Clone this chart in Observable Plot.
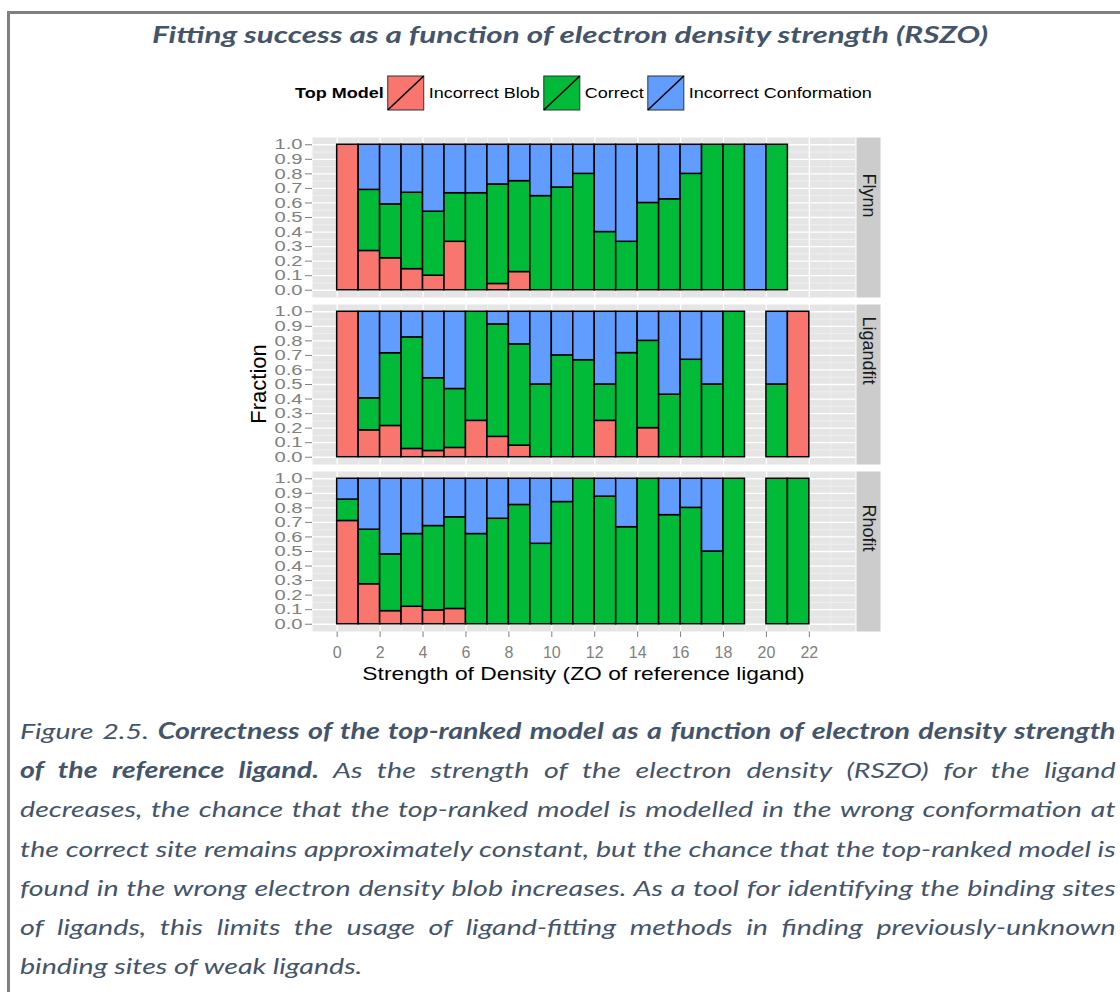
<!DOCTYPE html>
<html>
<head>
<meta charset="utf-8">
<script src="https://cdn.jsdelivr.net/npm/d3@7"></script>
<script src="https://cdn.jsdelivr.net/npm/@observablehq/plot@0.6"></script>
<style>
  html, body { margin: 0; padding: 0; background: #ffffff; }
  body { width: 1120px; height: 992px; overflow: hidden; position: relative; }
  #box { position: absolute; left: 7px; top: 11px; width: 1300px; height: 1200px;
         border-left: 3px solid #808080; border-top: 3px solid #808080; box-sizing: border-box; }
  #chart { position: absolute; left: 0; top: 120px; width: 1120px; }
  #overlay { position: absolute; left: 0; top: 0; }
  #chart svg [aria-label^="x-axis"], #chart svg [aria-label^="y-axis"] { color: #7F7F7F; }
  #chart svg [aria-label^="x-axis"] text { font-size: 16px; }
  #chart svg [aria-label^="y-axis"] text { font-size: 14.5px; }
</style>
</head>
<body>
<div id="box"></div>
<div id="chart"></div>
<script>
// ---- data: fraction of top-ranked models per density-strength bin ----
const methods = ["Flynn", "Ligandfit", "Rhofit"];
const categories = ["Incorrect Blob", "Correct", "Incorrect Conformation"];
const colors = ["#F8766D", "#00BA38", "#619CFF"];
const bins = [0, 1, 2, 3, 4, 5, 6, 7, 8, 9, 10, 11, 12, 13, 14, 15, 16, 17, 18, 19, 20, 21];

const flynnBlob         = [1.00, 0.27, 0.22, 0.145, 0.10, 0.333, 0, 0.043, 0.125, 0, 0, 0, 0, 0, 0, 0, 0, 0, 0, 0, 0, null];
const flynnCorrect      = [0, 0.42, 0.37, 0.525, 0.44, 0.334, 0.667, 0.684, 0.625, 0.647, 0.706, 0.80, 0.40, 0.333, 0.60, 0.625, 0.80, 1, 1, 0, 1, null];
const flynnConformation = [0, 0.31, 0.41, 0.33, 0.46, 0.333, 0.333, 0.273, 0.25, 0.353, 0.294, 0.20, 0.60, 0.667, 0.40, 0.375, 0.20, 0, 0, 1, 0, null];

const ligandfitBlob         = [1, 0.185, 0.215, 0.057, 0.043, 0.064, 0.25, 0.14, 0.08, 0, 0, 0, 0.25, 0, 0.20, 0, 0, 0, 0, null, 0, 1];
const ligandfitCorrect      = [0, 0.22, 0.50, 0.767, 0.50, 0.405, 0.75, 0.773, 0.696, 0.50, 0.70, 0.667, 0.25, 0.716, 0.60, 0.43, 0.67, 0.50, 1, null, 0.5, 0];
const ligandfitConformation = [0, 0.595, 0.285, 0.176, 0.457, 0.531, 0, 0.087, 0.224, 0.50, 0.30, 0.333, 0.50, 0.284, 0.20, 0.57, 0.33, 0.50, 0, null, 0.5, 0];

const rhofitBlob         = [0.71, 0.275, 0.09, 0.12, 0.095, 0.105, 0, 0, 0, 0, 0, 0, 0, 0, 0, 0, 0, 0, 0, null, 0, 0];
const rhofitCorrect      = [0.147, 0.375, 0.39, 0.50, 0.58, 0.63, 0.62, 0.725, 0.82, 0.553, 0.84, 1, 0.877, 0.667, 1, 0.75, 0.80, 0.50, 1, null, 1, 1];
const rhofitConformation = [0.143, 0.35, 0.52, 0.38, 0.325, 0.265, 0.38, 0.275, 0.18, 0.447, 0.16, 0, 0.123, 0.333, 0, 0.25, 0.20, 0.50, 0, null, 0, 0];

const xTicks = [0, 2, 4, 6, 8, 10, 12, 14, 16, 18, 20, 22];
const xMinor = [1, 3, 5, 7, 9, 11, 13, 15, 17, 19, 21, 23];
const yTicks = [0, 0.1, 0.2, 0.3, 0.4, 0.5, 0.6, 0.7, 0.8, 0.9, 1.0];
const yMinor = [0.05, 0.15, 0.25, 0.35, 0.45, 0.55, 0.65, 0.75, 0.85, 0.95];

const titleText = "Fitting success as a function of electron density strength (RSZO)";
const legendTitle = "Top Model";
const xTitle = "Strength of Density (ZO of reference ligand)";
const yTitle = "Fraction";
const captionLines = [
  [["Figure 2.5. ", false], ["Correctness of the top-ranked model as a function of electron density strength", true]],
  [["of the reference ligand.", true], [" As the strength of the electron density (RSZO) for the ligand", false]],
  [["decreases, the chance that the top-ranked model is modelled in the wrong conformation at", false]],
  [["the correct site remains approximately constant, but the chance that the top-ranked model is", false]],
  [["found in the wrong electron density blob increases. As a tool for identifying the binding sites", false]],
  [["of ligands, this limits the usage of ligand-fitting methods in finding previously-unknown", false]],
  [["binding sites of weak ligands.", false]]
];

// ---- long table: one row per stacked segment ----
const series = {
  Flynn: [flynnBlob, flynnCorrect, flynnConformation],
  Ligandfit: [ligandfitBlob, ligandfitCorrect, ligandfitConformation],
  Rhofit: [rhofitBlob, rhofitCorrect, rhofitConformation]
};
const table = [];
for (const m of methods) {
  bins.forEach((b, i) => {
    categories.forEach((c, j) => {
      const v = series[m][j][i];
      if (v != null && v > 0) table.push({method: m, bin: b, category: c, value: v});
    });
  });
}

// ---- layout ----
const W = 1120, H = 580;
const ML = 312, MR = 265, MT = 16, MB = 68;
const PANEL_W = W - ML - MR;
const STRETCH = 1.2;
const ink = "#44546A";

const chart = Plot.plot({
  width: W, height: H,
  marginTop: MT, marginRight: MR, marginBottom: MB, marginLeft: ML,
  style: {fontFamily: "'Liberation Sans', Arial, sans-serif", fontSize: "16px", background: "transparent", overflow: "visible"},
  facet: {data: table, y: "method"},
  fy: {domain: methods, axis: null, label: null, paddingInner: 0.042, paddingOuter: 0},
  x: {domain: [-1.15, 24.15], ticks: xTicks, tickFormat: d => String(d), tickSize: 6, tickPadding: 9, label: null},
  y: {domain: [-0.05, 1.05], ticks: yTicks, tickFormat: d => d.toFixed(1), tickSize: 7, tickPadding: 3, label: null},
  color: {domain: categories, range: colors},
  marks: [
    Plot.frame({fill: "#E5E5E5", stroke: "none"}),
    Plot.ruleY(yMinor, {stroke: "#F2F2F2", strokeWidth: 0.8}),
    Plot.ruleX(xMinor, {stroke: "#F2F2F2", strokeWidth: 0.8}),
    Plot.ruleY(yTicks, {stroke: "#FFFFFF", strokeWidth: 1.3}),
    Plot.ruleX(xTicks, {stroke: "#FFFFFF", strokeWidth: 1.3}),
    Plot.rectY(table, {x1: "bin", x2: d => d.bin + 1, y: "value", fill: "category", stroke: "#000000", strokeWidth: 1.5}),
    // facet strips on the right of each panel
    Plot.frame({fill: "#CCCCCC", stroke: "none", insetLeft: PANEL_W + 1, insetRight: -25}),
    Plot.text(table, Plot.selectFirst({text: "method", frameAnchor: "right", dx: 13, rotate: 90, fontSize: 18, fill: "#1A1A1A"}))
  ]
});
document.getElementById("chart").appendChild(chart);

const csvg = d3.select(chart);
// wide tick labels on the fraction axis
csvg.selectAll('[aria-label^="y-axis"] text').attr("textLength", 28).attr("lengthAdjust", "spacingAndGlyphs");

// axis titles
const xt = csvg.append("text")
  .attr("x", ML + PANEL_W / 2).attr("y", 560)
  .attr("text-anchor", "middle").attr("font-size", 19).attr("fill", "#000")
  .attr("font-family", "'Liberation Sans', Arial, sans-serif")
  .text(xTitle);
xt.attr("textLength", xt.node().getComputedTextLength() * STRETCH).attr("lengthAdjust", "spacingAndGlyphs");
csvg.append("text")
  .attr("transform", `translate(266,${MT + (H - MT - MB) / 2}) rotate(-90)`)
  .attr("text-anchor", "middle").attr("font-size", 22).attr("fill", "#000")
  .attr("font-family", "'Liberation Sans', Arial, sans-serif")
  .text(yTitle);

// ---- title, legend and caption ----
const overlay = d3.select("body").append("svg").attr("id", "overlay")
  .attr("width", 1120).attr("height", 992);

overlay.append("text")
  .attr("x", 570).attr("y", 43).attr("text-anchor", "middle")
  .attr("font-family", "Lato, 'Open Sans', sans-serif").attr("font-style", "italic").attr("font-weight", "bold")
  .attr("font-size", 22).attr("fill", ink)
  .attr("textLength", 836).attr("lengthAdjust", "spacingAndGlyphs")
  .text(titleText);

// legend
const lg = overlay.append("g").attr("font-family", "'Liberation Sans', Arial, sans-serif").attr("font-size", 15);
const keyW = 36, keyH = 34, keyTop = 76, textBase = 98;
let cx = 0;
const lt = lg.append("text").attr("x", cx).attr("y", textBase).attr("font-weight", "bold").attr("fill", "#000").text(legendTitle);
let tw = lt.node().getComputedTextLength() * STRETCH;
lt.attr("textLength", tw).attr("lengthAdjust", "spacingAndGlyphs");
cx += tw + 4;
categories.forEach((c, i) => {
  lg.append("rect").attr("x", cx).attr("y", keyTop).attr("width", keyW).attr("height", keyH)
    .attr("fill", colors[i]).attr("stroke", "#333").attr("stroke-width", 1);
  lg.append("line").attr("x1", cx).attr("y1", keyTop + keyH).attr("x2", cx + keyW).attr("y2", keyTop)
    .attr("stroke", "#000").attr("stroke-width", 1.6);
  cx += keyW + 5;
  const t = lg.append("text").attr("x", cx).attr("y", textBase).attr("fill", "#000").text(c);
  const w = t.node().getComputedTextLength() * STRETCH;
  t.attr("textLength", w).attr("lengthAdjust", "spacingAndGlyphs");
  cx += w + 4;
});
const legendCenter = ML + PANEL_W / 2;
lg.attr("transform", `translate(${legendCenter - (cx - 4) / 2},0)`);

// caption: justified lines, widened horizontally like the rest of the figure
const capLeft = 20, capWidth = 1096, capFirst = 739, capStep = 39.2, lastTarget = 352;
const cg = overlay.append("g")
  .attr("font-family", "Lato, 'Open Sans', sans-serif").attr("font-style", "italic")
  .attr("font-size", 22).attr("fill", ink);
const lineNodes = captionLines.map((segs, i) => {
  const t = cg.append("text").attr("x", 0).attr("y", capFirst + i * capStep).style("white-space", "pre");
  segs.forEach(([s, bold]) => t.append("tspan").attr("font-weight", bold ? "bold" : "normal").text(s));
  return t;
});
const naturals = lineNodes.map(t => t.node().getComputedTextLength());
const lastNat = naturals[naturals.length - 1];
const widest = d3.max(naturals.slice(0, -1));
// widen as much as the last line suggests, but never squeeze words below their natural spacing
const sx = Math.min(lastTarget / lastNat, capWidth / widest);
const inner = capWidth / sx;
lineNodes.forEach((t, i) => {
  if (i === lineNodes.length - 1) return;
  const spaces = captionLines[i].map(s => s[0]).join("").split(" ").length - 1;
  t.style("word-spacing", ((inner - naturals[i]) / spaces) + "px");
});
cg.attr("transform", `translate(${capLeft},0) scale(${sx},1)`);
</script>
</body>
</html>
